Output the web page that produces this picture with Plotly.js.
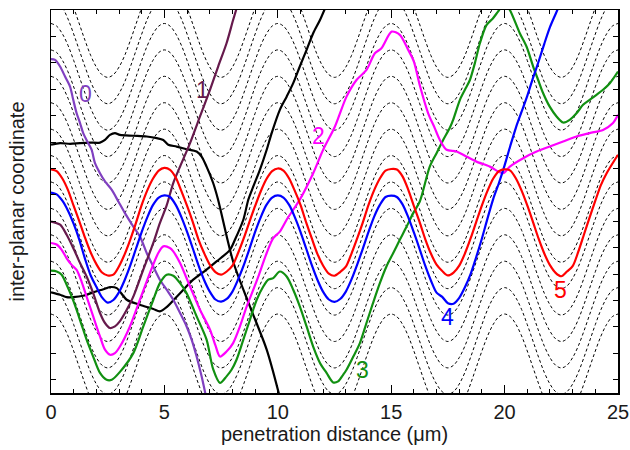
<!DOCTYPE html>
<html>
<head>
<meta charset="utf-8">
<script src="https://cdn.plot.ly/plotly-3.0.1.min.js"></script>
<style>html,body{margin:0;padding:0;background:#fff;}#chart{width:630px;height:450px;}</style>
</head>
<body>
<div id="chart"></div>
<script>
// ---------- data ----------
const xTickVals = [0, 5, 10, 15, 20, 25];
const xTickText = ['0', '5', '10', '15', '20', '25'];
const yTickVals = [0,1,2,3,4,5,6,7,8,9,10,11,12,13];

// crystal planes (dashed): centres and one period of the profile (step 0.25 um)
const planeCentres = [0.47,1.47,2.47,3.47,4.47,5.47,6.47,7.47,8.47,9.47,10.47,11.47,12.47,13.47];
const planeProfile = [2.02,1.92,1.63,1.19,0.62,0,-0.62,-1.19,-1.63,-1.92,-2.02,-1.92,-1.63,-1.19,-0.62,0,0.62,1.19,1.63,1.92];
const planeStep = 0.25;

// trajectory 5 (red), step 0.25 um from 0
const redY = [7.97,7.90,7.62,7.18,6.58,6.00,5.38,4.82,4.38,4.06,3.95,3.98,4.30,4.76,5.32,5.95,6.62,7.18,7.62,7.92,
  8.02,7.95,7.66,7.14,6.58,5.98,5.32,4.80,4.36,4.08,3.98,4.10,4.32,4.80,5.36,5.98,6.58,7.14,7.60,7.90,
  8.00,7.92,7.62,7.15,6.62,5.96,5.35,4.76,4.32,4.02,3.94,4.08,4.28,4.78,5.35,5.96,6.62,7.18,7.62,7.92,
  7.98,7.96,7.70,7.20,6.58,5.98,5.33,4.78,4.36,4.12,3.95,4.06,4.32,4.78,5.35,5.98,6.60,7.16,7.62,7.90,
  7.97,7.92,7.62,7.16,6.60,5.98,5.34,4.78,4.34,4.05,3.92,4.10,4.30,4.85,5.50,6.15,6.78,7.38,7.82,8.18,8.52];
const redStep = 0.25;

// trajectory 4 (blue), step 0.25 um from 0
const blueY = [7.09,7.02,6.78,6.40,5.90,5.30,4.58,3.95,3.52,3.12,2.92,3.02,3.32,3.78,4.34,4.97,5.60,6.16,6.62,6.90,
  6.98,6.92,6.62,6.16,5.60,4.98,4.34,3.78,3.34,3.04,2.96,3.06,3.34,3.80,4.34,4.96,5.60,6.16,6.62,6.90,
  6.98,6.90,6.62,6.16,5.60,4.97,4.34,3.78,3.33,3.04,2.95,3.06,3.34,3.80,4.36,4.97,5.60,6.18,6.62,6.92,
  6.97,6.92,6.64,6.16,5.58,4.96,4.32,3.76,3.30,3.14,2.90,2.88,3.10,3.50,4.00,4.65,5.35,6.12,6.85,7.45,
  8.12,8.85,9.55,10.15,10.75,11.42,12.05,12.72,13.35,13.85,14.35];
const blueStep = 0.25;

// trajectory 1 (maroon)
const maroonX = [0,0.40,0.69,0.98,1.28,1.57,1.86,2.16,2.38,2.60,2.82,3.04,3.34,3.63,4.07,4.51,4.80,5.10,5.39,5.69,6.13,6.57,7.01,7.37,7.74,8.03,8.30];
const maroonY = [5.99,5.87,5.49,4.99,4.42,3.91,3.28,2.53,2.15,1.96,2.02,2.22,2.65,3.15,4.17,5.18,5.93,6.60,7.45,8.07,8.96,9.97,10.98,11.86,12.74,13.62,14.40];

// trajectory 2 (magenta)
const magentaX = [0,0.25,0.47,0.69,0.91,1.13,1.35,1.57,1.86,2.16,2.38,2.60,2.82,3.04,3.48,3.92,4.36,4.73,4.95,5.24,5.39,5.69,6.13,6.57,7.01,7.25,7.45,7.74,8.03,8.33,8.63,8.92,9.14,9.51,9.80,10.09,10.39,10.68,10.97,11.56,12.00,12.52,13.03,13.47,13.91,14.28,14.57,15.02,15.38,15.75,16.00,16.26,16.63,16.92,17.14,17.44,17.88,18.32,18.76,19.35,19.93,20.23,20.82,21.41,21.99,22.58,23.17,23.75,24.34,24.78,25.0];
const magentaY = [5.18,5.12,4.92,4.60,4.35,4.16,3.71,3.15,2.40,1.64,1.14,0.95,1.01,1.26,2.02,3.03,4.04,4.80,5.05,4.99,4.86,4.42,3.53,2.65,1.90,1.30,0.88,1.07,1.39,2.02,2.78,3.41,3.91,4.80,5.36,5.61,6.06,6.44,6.82,7.82,8.71,9.59,10.72,11.35,11.73,12.36,12.55,13.18,13.06,12.49,12.05,11.15,10.09,9.53,9.09,8.71,8.64,8.45,8.26,8.07,7.82,8.07,8.39,8.64,8.83,9.02,9.21,9.34,9.46,9.72,10.03];

// trajectory 3 (green)
const greenX = [0,0.25,0.47,0.69,0.91,1.13,1.35,1.57,1.86,2.16,2.45,2.68,3.04,3.63,4.07,4.51,4.80,5.10,5.39,5.69,5.98,6.42,6.86,7.15,7.45,7.74,7.96,8.18,8.48,8.77,9.07,9.36,9.58,9.80,10.09,10.39,10.68,10.97,11.27,11.56,11.86,12.15,12.44,12.66,12.88,13.03,13.33,13.62,13.91,14.20,14.50,14.79,15.09,15.38,15.68,15.97,16.26,16.70,17.00,17.29,17.58,17.73,18.03,18.25,18.47,18.69,18.91,19.20,19.49,19.71,20.0,20.23,20.67,20.97,21.26,21.48,21.70,21.99,22.29,22.58,22.87,23.17,23.46,23.75,24.05,24.34,24.64,25.0];
const greenY = [4.13,4.10,3.98,3.60,3.16,2.65,2.08,1.52,0.88,0.26,0.0,0.0,0.30,1.01,2.02,3.03,3.66,3.98,3.94,3.66,3.28,2.40,1.52,0.40,-0.12,0.13,0.38,0.76,1.52,2.27,3.03,3.53,3.79,3.85,4.10,3.91,3.41,2.78,2.02,1.26,0.64,0.26,-0.10,-0.06,0.19,0.38,0.88,1.39,2.15,2.91,3.66,4.29,4.80,5.30,5.80,6.31,6.75,8.07,8.58,9.08,9.53,9.84,10.60,10.98,11.35,11.99,12.74,13.43,13.69,13.94,14.25,14.00,13.12,12.61,11.86,11.35,10.85,10.34,9.97,9.74,9.84,10.09,10.41,10.60,10.79,10.98,11.23,11.67];

// trajectory 0 (purple)
const purpleX = [0,0.18,0.40,0.62,0.84,0.98,1.13,1.28,1.42,1.64,1.79,1.94,2.16,2.38,2.68,2.97,3.26,3.63,3.92,4.22,4.51,4.80,5.10,5.39,5.69,5.98,6.20,6.42,6.64,6.85];
const purpleY = [12.14,12.11,11.86,11.48,11.10,10.60,10.09,9.72,9.34,8.96,8.71,8.20,7.82,7.51,7.19,6.75,6.31,5.80,5.43,4.80,4.29,3.79,3.41,3.03,2.53,2.02,1.52,0.88,0.13,-0.70];

// unlabelled black trajectory starting high
const black1X = [0,0.40,0.84,1.28,1.72,2.16,2.38,2.60,2.82,3.04,3.63,4.22,4.66,4.95,5.17,5.54,5.98,6.42,6.64,6.86,7.15,7.37,8.03,8.77,9.51,10.10];
const black1Y = [8.90,8.96,8.93,8.96,8.98,8.98,9.08,9.27,9.34,9.27,9.24,9.21,9.15,9.08,8.90,8.83,8.73,8.64,8.45,8.07,7.45,6.81,4.48,2.78,1.14,-0.70];

// unlabelled black trajectory starting low
const black2X = [0,0.40,0.69,0.98,1.42,1.86,2.31,2.60,2.90,3.34,3.92,4.51,4.80,5.10,5.69,6.27,6.86,7.30,7.89,8.11,8.48,8.70,8.92,9.21,9.51,9.73,10.09,10.39,10.68,10.97,11.27,11.56,11.86,12.15];
const black2Y = [3.31,3.22,3.13,3.13,3.18,3.31,3.43,3.51,3.47,3.03,2.84,2.68,2.59,2.75,3.28,3.79,4.17,4.48,4.92,5.30,6.06,6.82,7.32,7.95,8.71,9.34,10.22,10.72,11.23,11.86,12.49,13.12,13.62,14.20];

// trajectory labels
const labelText = ['0', '1', '2', '3', '4', '5'];
const labelX = [1.54, 6.70, 11.81, 13.73, 17.47, 22.48];
const labelY = [10.83, 10.98, 9.22, 0.36, 2.37, 3.41];
const labelColor = ['#8040c0', '#661a4c', '#ff00ff', '#119011', '#0000ff', '#ff0000'];

// ---------- build traces ----------
const traces = [];
const nPlane = Math.round(25 / planeStep) + 1;
const planeX = [];
for (let i = 0; i < nPlane; i++) planeX.push(i * planeStep);
planeCentres.forEach(c => {
  const y = planeX.map((_, i) => c + planeProfile[i % planeProfile.length]);
  traces.push({x: planeX, y: y, mode: 'lines', hoverinfo: 'skip',
    line: {color: '#000', width: 1, dash: '3px,2.5px', shape: 'spline', smoothing: 1}});
});
function addLine(x, y, color) {
  traces.push({x: x, y: y, mode: 'lines', hoverinfo: 'skip',
    line: {color: color, width: 2.2, shape: 'spline', smoothing: 0.8}});
}
addLine(black1X, black1Y, '#000000');
addLine(black2X, black2Y, '#000000');
addLine(purpleX, purpleY, '#8040c0');
addLine(maroonX, maroonY, '#661a4c');
addLine(greenX, greenY, '#119011');
addLine(magentaX, magentaY, '#ff00ff');
addLine(blueY.map((_, i) => i * blueStep), blueY, '#0000ff');
addLine(redY.map((_, i) => i * redStep), redY, '#ff0000');

const annotations = labelText.map((t, i) => ({
  x: labelX[i], y: labelY[i], xref: 'x', yref: 'y', text: t, showarrow: false,
  font: {family: 'Liberation Sans, Arial, sans-serif', size: 23, color: labelColor[i]},
  xanchor: 'center', yanchor: 'middle'
}));

const layout = {
  width: 630, height: 450,
  margin: {l: 51, r: 12, t: 10, b: 57},
  paper_bgcolor: '#fff', plot_bgcolor: '#fff',
  showlegend: false,
  font: {family: 'Liberation Sans, Arial, sans-serif', size: 20, color: '#1a1a1a'},
  xaxis: {
    range: [0, 25], tickmode: 'array', tickvals: xTickVals, ticktext: xTickText,
    ticks: 'inside', ticklen: 8, tickwidth: 1, tickcolor: '#000',
    showline: true, linecolor: '#000', linewidth: 1.5, mirror: 'allticks',
    showgrid: false, zeroline: false, automargin: false,
    tickfont: {size: 20},
    minor: {dtick: 1, tick0: 0, ticks: 'inside', ticklen: 4, tickwidth: 1, tickcolor: '#000', showgrid: false},
    title: {text: 'penetration distance (μm)', font: {size: 20}, standoff: 5}
  },
  yaxis: {
    range: [-0.5, 14], tickmode: 'array', tickvals: yTickVals, showticklabels: false,
    ticks: 'inside', ticklen: 5, tickwidth: 1, tickcolor: '#000',
    showline: true, linecolor: '#000', linewidth: 1.5, mirror: 'allticks',
    showgrid: false, zeroline: false, automargin: false,
    title: {text: 'inter-planar coordinate', font: {size: 20}, standoff: 19}
  },
  annotations: annotations
};

Plotly.newPlot('chart', traces, layout, {staticPlot: true, displayModeBar: false});
</script>
</body>
</html>
